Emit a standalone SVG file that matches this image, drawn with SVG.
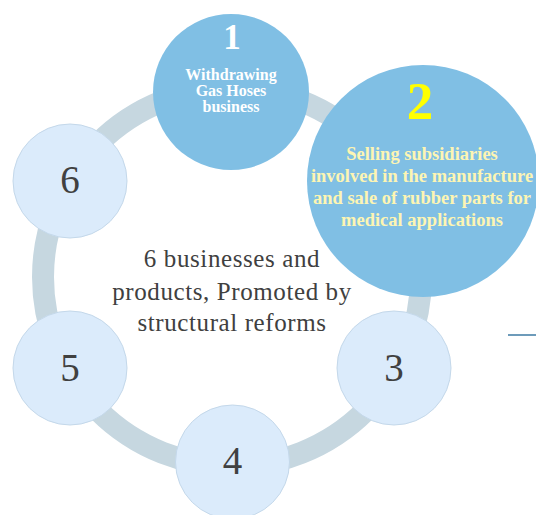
<svg xmlns="http://www.w3.org/2000/svg" width="536" height="515" viewBox="0 0 536 515">
  <style>
    .ring { fill: none; stroke: #c6d7e0; stroke-width: 22; }
    .small { fill: #dbebfb; stroke: #c4d8ea; stroke-width: 1; }
    .big { fill: #80bfe4; stroke: none; }
    .num { font-family: "Liberation Serif", "Times New Roman", serif; font-size: 39px; fill: #404040; text-anchor: middle; }
    .center { font-family: "Liberation Serif", "Times New Roman", serif; font-size: 25px; fill: #404040; text-anchor: middle; letter-spacing: 0.6px; }
    .lbl1 { font-family: "Liberation Serif", "Times New Roman", serif; font-size: 16px; font-weight: bold; fill: #ffffff; text-anchor: middle; }
    .lbl2 { font-family: "Liberation Serif", "Times New Roman", serif; font-size: 18.5px; font-weight: bold; fill: #fdf5b3; text-anchor: middle; }
    .big1 { font-size: 35px; }
    .big2 { font-size: 53px; fill: #ffff00; }
  </style>
  <rect width="536" height="515" fill="#ffffff"/>
  <g id="connectors">
    <circle class="ring" cx="232" cy="277" r="189"/>
    <line x1="508" y1="335" x2="536" y2="335" stroke="#6d9bba" stroke-width="2"/>
  </g>
  <g id="center-label">
    <text class="center" x="232" y="267">6 businesses and</text>
    <text class="center" x="232" y="300">products, Promoted by</text>
    <text class="center" x="232" y="331">structural reforms</text>
  </g>
  <g id="node6">
    <circle class="small" cx="70" cy="181" r="57"/>
    <text class="num" x="70" y="193">6</text>
  </g>
  <g id="node5">
    <circle class="small" cx="70" cy="368" r="57"/>
    <text class="num" x="70" y="381">5</text>
  </g>
  <g id="node4">
    <circle class="small" cx="232.5" cy="462" r="57"/>
    <text class="num" x="232.5" y="474">4</text>
  </g>
  <g id="node3">
    <circle class="small" cx="394" cy="368" r="57"/>
    <text class="num" x="394" y="381">3</text>
  </g>
  <g id="node1">
    <circle class="big" cx="231" cy="92" r="78"/>
    <text class="lbl1 big1" x="232" y="49">1</text>
    <text class="lbl1" x="231" y="80">Withdrawing</text>
    <text class="lbl1" x="231" y="96">Gas Hoses</text>
    <text class="lbl1" x="231" y="112">business</text>
  </g>
  <g id="node2">
    <circle class="big" cx="423" cy="181" r="116"/>
    <text class="lbl2 big2" x="420" y="119">2</text>
    <text class="lbl2" x="422" y="160">Selling subsidiaries</text>
    <text class="lbl2" x="422" y="182">involved in the manufacture</text>
    <text class="lbl2" x="422" y="204">and sale of rubber parts for</text>
    <text class="lbl2" x="422" y="226">medical applications</text>
  </g>
</svg>
